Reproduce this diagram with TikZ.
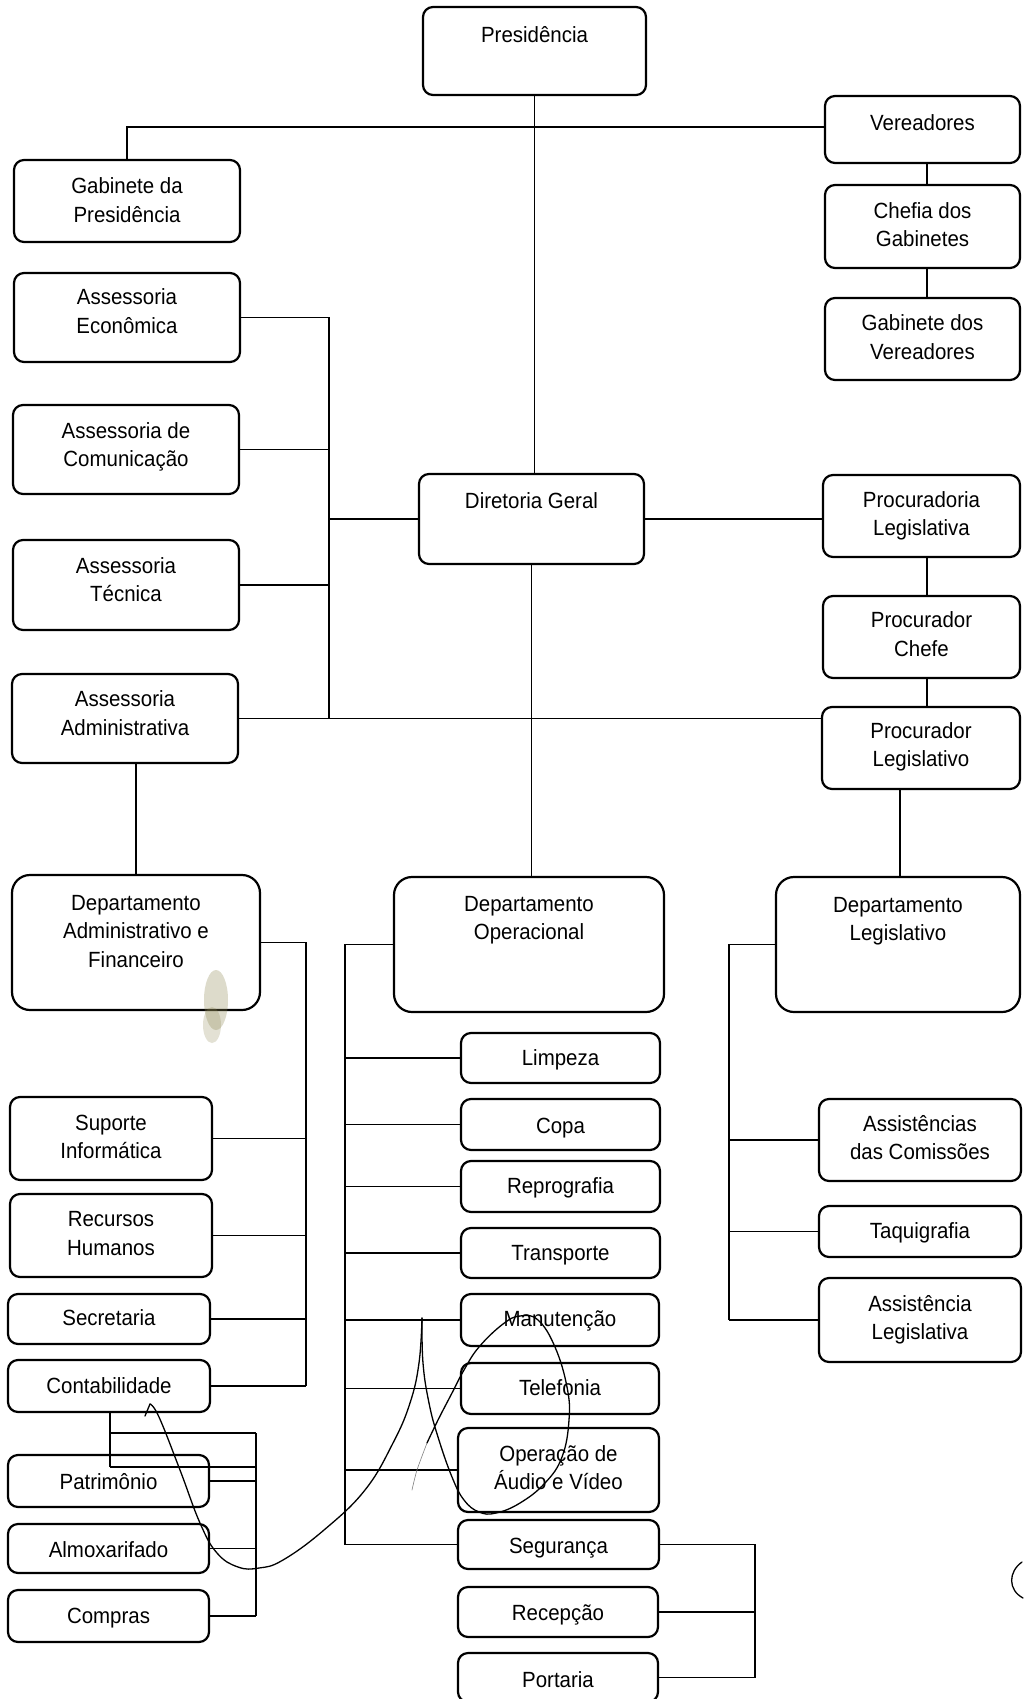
\documentclass[tikz,border=0pt]{standalone}
\usepackage{fontspec}
\setmainfont[FakeStretch=0.93]{Liberation Sans}
\tikzset{
  box/.style={draw, line width=2.2pt, rounded corners=10pt, inner sep=0pt, outer sep=0pt},
  bigbox/.style={box, rounded corners=18pt},
  lbl/.style={align=center, inner sep=0pt, font=\fontsize{22}{28.5}\selectfont,
    execute at begin node=\strut, execute at end node=\strut},
  conn/.style={line width=1.8pt},
  ink/.style={line width=1.3pt, line cap=round, line join=round}
}
% [style]{name}{x1}{y1}{x2}{y2}{text centre y}{text}
\newcommand\OrgBox[8][box]{%
  \node[#1, minimum width={(#5-#3)*1pt}, minimum height={(#6-#4)*1pt}] (#2) at ({(#3+#5)/2},{(#4+#6)/2}) {};
  \node[lbl] (#2-t) at ({(#3+#5)/2},#7) {#8};}
\begin{document}
\begin{tikzpicture}[x=1pt, y=-1pt]
\fill[white] (0,0) rectangle (1023,1699);
\useasboundingbox (0,0) rectangle (1023,1699);

% ---- boxes ----
\OrgBox{pres}{423}{7}{646}{95}{37.3}{Presidência}
\OrgBox{gabp}{14}{160}{240}{242}{204.3}{Gabinete da\\Presidência}
\OrgBox{ver}{825}{96}{1020}{163}{125.3}{Vereadores}
\OrgBox{chef}{825}{185}{1020}{268}{228.8}{Chefia dos\\Gabinetes}
\OrgBox{gabv}{825}{298}{1020}{380}{341.3}{Gabinete dos\\Vereadores}
\OrgBox{ae}{14}{273}{240}{362}{315.3}{Assessoria\\Econômica}
\OrgBox{ac}{13}{405}{239}{494}{448.8}{Assessoria de\\Comunicação}
\OrgBox{dg}{419}{474}{644}{564}{502.3}{Diretoria Geral}
\OrgBox{pl}{823}{475}{1020}{557}{517.8}{Procuradoria\\Legislativa}
\OrgBox{at}{13}{540}{239}{630}{583.8}{Assessoria\\Técnica}
\OrgBox{pc}{823}{596}{1020}{678}{638.3}{Procurador\\Chefe}
\OrgBox{aa}{12}{674}{238}{763}{717.3}{Assessoria\\Administrativa}
\OrgBox{plv}{822}{707}{1020}{789}{748.8}{Procurador\\Legislativo}
\OrgBox[bigbox]{daf}{12}{875}{260}{1010}{935.3}{Departamento\\Administrativo e\\Financeiro}
\OrgBox[bigbox]{dop}{394}{877}{664}{1012}{922.3}{Departamento\\Operacional}
\OrgBox[bigbox]{dleg}{776}{877}{1020}{1012}{923.3}{Departamento\\Legislativo}
\OrgBox{limp}{461}{1033}{660}{1083}{1059.3}{Limpeza}
\OrgBox{copa}{461}{1099}{660}{1150}{1127.3}{Copa}
\OrgBox{repr}{461}{1161}{660}{1212}{1187.3}{Reprografia}
\OrgBox{transp}{461}{1228}{660}{1278}{1254.3}{Transporte}
\OrgBox{manut}{461}{1294}{659}{1346}{1320.3}{Manutenção}
\OrgBox{tel}{461}{1363}{659}{1414}{1389.3}{Telefonia}
\OrgBox{oav}{458}{1428}{659}{1512}{1471.8}{Operação de\\Áudio e Vídeo}
\OrgBox{seg}{458}{1520}{659}{1569}{1547.3}{Segurança}
\OrgBox{recep}{458}{1587}{658}{1637}{1614.3}{Recepção}
\OrgBox{port}{458}{1653}{658}{1702}{1681.3}{Portaria}
\OrgBox{si}{10}{1097}{212}{1180}{1141.3}{Suporte\\Informática}
\OrgBox{rh}{10}{1194}{212}{1277}{1237.8}{Recursos\\Humanos}
\OrgBox{sec}{8}{1294}{210}{1344}{1319.3}{Secretaria}
\OrgBox{cont}{8}{1360}{210}{1412}{1387.3}{Contabilidade}
\OrgBox{pat}{8}{1455}{209}{1507}{1483.3}{Patrimônio}
\OrgBox{alm}{8}{1524}{209}{1573}{1551.3}{Almoxarifado}
\OrgBox{comp}{8}{1590}{209}{1642}{1617.3}{Compras}
\OrgBox{asc}{819}{1099}{1021}{1181}{1141.8}{Assistências\\das Comissões}
\OrgBox{taq}{819}{1206}{1021}{1257}{1232.3}{Taquigrafia}
\OrgBox{asl}{819}{1278}{1021}{1362}{1321.8}{Assistência\\Legislativa}

% ---- bus coordinates ----
\coordinate (b1) at (329,0);
\coordinate (b2) at (306,0);
\coordinate (b3) at (345,0);
\coordinate (b4) at (755,0);
\coordinate (b5) at (729,0);
\coordinate (b6) at (256,0);
\coordinate (vx) at (927,0);
\coordinate (dx) at (900,0);
\coordinate (cx) at (110,0);
\coordinate (top) at (0,127);
\coordinate (h1) at (0,1433);
\coordinate (h2) at (0,1467);

% ---- connectors ----
\draw[conn] (pres.south) -- (pres.south |- dg.north);
\draw[conn] (ver.west |- top) -| (gabp.north);
\draw[conn] (ver.south -| vx) -- (chef.north -| vx);
\draw[conn] (chef.south -| vx) -- (gabv.north -| vx);

\draw[conn] (ae.east) -- (ae.east -| b1) -- (aa.east -| b1);
\draw[conn] (ac.east) -- (ac.east -| b1);
\draw[conn] (at.east) -- (at.east -| b1);
\draw[conn] (dg.west) -- (dg.west -| b1);
\draw[conn] (aa.east) -- (aa.east -| plv.west);
\draw[conn] (dg.east) -- (dg.east -| pl.west);
\draw[conn] (pl.south -| vx) -- (pc.north -| vx);
\draw[conn] (pc.south -| vx) -- (plv.north -| vx);

\draw[conn] (aa.south -| daf.north) -- (daf.north);
\draw[conn] (dg.south) -- (dg.south |- dop.north);
\draw[conn] (plv.south -| dx) -- (dleg.north -| dx);

% Departamento Administrativo e Financeiro
\draw[conn] (daf.east) -- (daf.east -| b2) -- (cont.east -| b2);
\draw[conn] (si.east) -- (si.east -| b2);
\draw[conn] (rh.east) -- (rh.east -| b2);
\draw[conn] (sec.east) -- (sec.east -| b2);
\draw[conn] (cont.east) -- (cont.east -| b2);

% Contabilidade sub-group
\draw[conn] (cont.south -| cx) -- (h2 -| cx);
\draw[conn] (h1 -| cx) -- (h1 -| b6);
\draw[conn] (h2 -| cx) -- (h2 -| b6);
\draw[conn] (h1 -| b6) -- (comp.east -| b6);
\draw[conn] (pat.east) -- (pat.east -| b6);
\draw[conn] (alm.east) -- (alm.east -| b6);
\draw[conn] (comp.east) -- (comp.east -| b6);

% Departamento Operacional
\draw[conn] (dop.west) -- (dop.west -| b3) -- (seg.west -| b3);
\foreach \n in {limp,copa,repr,transp,manut,tel,oav,seg}
  \draw[conn] (\n.west) -- (\n.west -| b3);
\draw[conn] (seg.east) -- (seg.east -| b4) -- (port.east -| b4);
\draw[conn] (recep.east) -- (recep.east -| b4);
\draw[conn] (port.east) -- (port.east -| b4);

% Departamento Legislativo
\draw[conn] (dleg.west) -- (dleg.west -| b5) -- (asl.west -| b5);
\foreach \n in {asc,taq,asl}
  \draw[conn] (\n.west) -- (\n.west -| b5);

% ---- hand-made marks on the scan ----
\fill[olive!40!gray, opacity=0.3] (216,1000) ellipse [x radius=12, y radius=30];
\fill[olive!40!gray, opacity=0.25] (212,1025) ellipse [x radius=9, y radius=18];
\draw[ink] (145,1416) -- (150,1404);
\draw[ink] plot[smooth, tension=0.7] coordinates {(150,1404) (159,1417) (180,1470) (200,1523) (217,1553) (238,1567) (259,1568) (283,1560) (324,1530) (365,1490) (393,1443) (410,1403) (419,1363) (422,1318)};
\draw[ink] plot[smooth, tension=0.7] coordinates {(422,1318) (423,1363) (429,1403) (438,1437) (452,1477) (464,1500) (479,1512) (496,1513) (520,1503) (545,1483) (562,1457) (569,1420) (567,1387) (555,1347) (538,1320) (520,1316) (503,1324) (479,1347) (464,1370) (452,1393) (438,1420) (427,1443)};
\draw[ink, gray, line width=0.6pt] plot[smooth] coordinates {(427,1443) (417,1470) (412,1490)};
\draw[ink] (1022,1562) .. controls (1008,1572) and (1008,1590) .. (1023,1598);
\end{tikzpicture}
\end{document}
